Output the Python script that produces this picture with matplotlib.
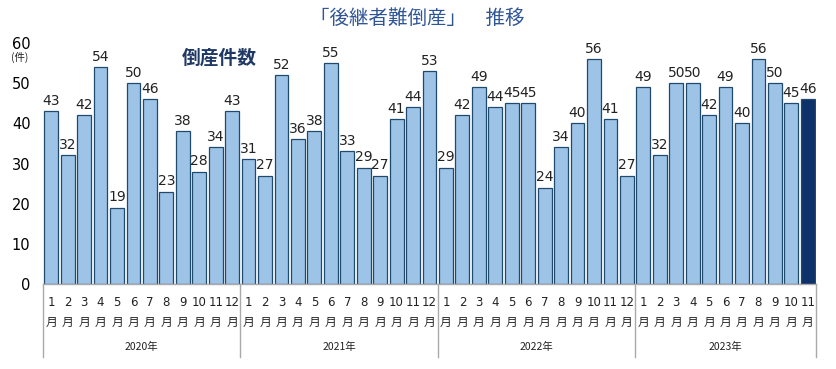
import matplotlib
matplotlib.use("Agg")
import matplotlib.pyplot as plt
import matplotlib.transforms as mtransforms
from matplotlib.lines import Line2D

plt.rcParams['font.family'] = ['Noto Sans CJK JP', 'DejaVu Sans']

years = ["2020年", "2021年", "2022年", "2023年"]
months_per_year = [12, 12, 12, 11]
values_2020 = [43, 32, 42, 54, 19, 50, 46, 23, 38, 28, 34, 43]
values_2021 = [31, 27, 52, 36, 38, 55, 33, 29, 27, 41, 44, 53]
values_2022 = [29, 42, 49, 44, 45, 45, 24, 34, 40, 56, 41, 27]
values_2023 = [49, 32, 50, 50, 42, 49, 40, 56, 50, 45, 46]
yticks = [0, 10, 20, 30, 40, 50, 60]

values = values_2020 + values_2021 + values_2022 + values_2023
month_labels = []
for n in months_per_year:
    month_labels += [str(m + 1) for m in range(n)]

W, H = 836, 369
fig = plt.figure(figsize=(W / 100, H / 100), dpi=100)
ax = fig.add_axes([43 / W, (H - 284) / H, (816 - 43) / W, (284 - 43) / H])

light = "#9dc3e6"
dark = "#0d3168"
edge = "#1f4a6e"
colors = [light] * (len(values) - 1) + [dark]
x = list(range(len(values)))
ax.bar(x, values, width=0.84, color=colors, edgecolor=edge, linewidth=0.9)

for xi, v in zip(x, values):
    ax.text(xi, v + 0.8, str(v), ha="center", va="bottom", fontsize=10,
            color="#222222", family=["DejaVu Sans"])

ax.set_xlim(-0.5, len(values) - 0.5)
ax.set_ylim(0, 60)
ax.set_yticks(yticks)
ax.set_yticklabels([str(t) for t in yticks], fontsize=10.5, family=["DejaVu Sans"])
ax.tick_params(axis="y", length=0, pad=9)
ax.set_xticks([])
for s in ["top", "right", "left"]:
    ax.spines[s].set_visible(False)
ax.spines["bottom"].set_color("#aaaaaa")
ax.spines["bottom"].set_linewidth(1.0)

tr = mtransforms.blended_transform_factory(ax.transData, fig.transFigure)
for xi, lab in zip(x, month_labels):
    ax.text(xi, (H - 303) / H, lab, transform=tr, ha="center", va="center",
            fontsize=8.5, color="#222222", family=["DejaVu Sans"], clip_on=False)
    ax.text(xi, (H - 322) / H, "月", transform=tr, ha="center", va="center",
            fontsize=8.5, color="#222222", clip_on=False)

start = 0
bounds = [-0.5]
for yr, n in zip(years, months_per_year):
    center = start + (n - 1) / 2
    ax.text(center, (H - 347) / H, yr, transform=tr, ha="center", va="center",
            fontsize=7.5, color="#222222", clip_on=False)
    start += n
    bounds.append(start - 0.5)
for b in bounds:
    fig.add_artist(Line2D([b, b], [(H - 284) / H, (H - 357) / H], transform=tr,
                          color="#aaaaaa", linewidth=1.0))

fig.text(417 / W, 1 - 18 / H, "「後継者難倒産」　推移", ha="center", va="center",
         fontsize=14, color="#2f5597")
fig.text(219 / W, 1 - 58 / H, "倒産件数", ha="center", va="center",
         fontsize=13.5, fontweight="bold", color="#1f3864")
fig.text(20 / W, 1 - 57 / H, "(件)", ha="center", va="center",
         fontsize=7.5, color="#222222")

fig.savefig("out.png", dpi=100)
